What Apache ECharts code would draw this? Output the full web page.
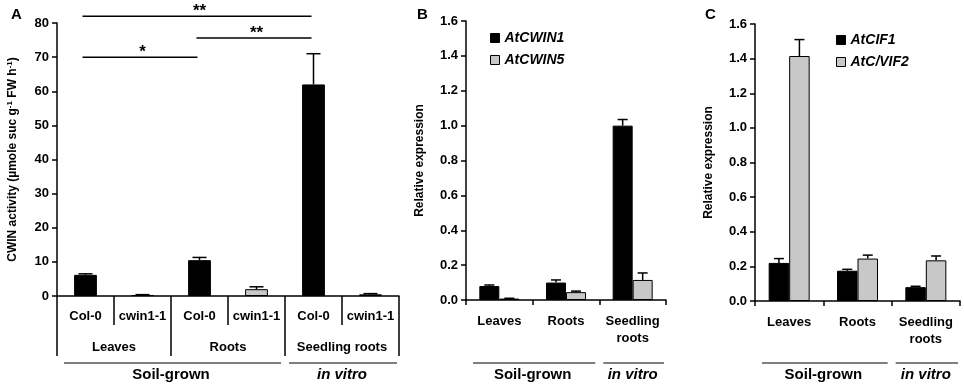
<!DOCTYPE html>
<html>
<head>
<meta charset="utf-8">
<script src="https://cdn.jsdelivr.net/npm/echarts@6/dist/echarts.min.js"></script>
<style>
  html, body { margin: 0; padding: 0; background: #fff; }
  #main { width: 964px; height: 386px; }
</style>
</head>
<body>
<div id="main"></div>
<script>
// panel A: CWIN activity
const genotypes = ['Col-0', 'cwin1-1', 'Col-0', 'cwin1-1', 'Col-0', 'cwin1-1'];
const tissuesA = ['Leaves', 'Roots', 'Seedling roots'];
const activity = [6.2, 0.3, 10.5, 2.0, 62, 0.5];
const activityErr = [0.3, 0.1, 0.8, 0.7, 9, 0.2];
// significance brackets: [from bar, to bar, level, label]
const sigFrom = [0, 2, 0];
const sigTo = [2, 4, 4];
const sigLevel = [70, 75.6, 82];
const sigLabel = ['*', '**', '**'];

// panels B and C: relative expression
const tissues = ['Leaves', 'Roots', 'Seedling\nroots'];
const cwin1 = [0.08, 0.10, 1.00];
const cwin1Err = [0.006, 0.015, 0.035];
const cwin5 = [0.008, 0.045, 0.115];
const cwin5Err = [0.002, 0.006, 0.04];
const cif1 = [0.22, 0.175, 0.08];
const cif1Err = [0.025, 0.008, 0.005];
const cvif2 = [1.415, 0.245, 0.235];
const cvif2Err = [0.095, 0.02, 0.025];
const growth = ['Soil-grown', 'in vitro'];

const FONT = 'Liberation Sans';
const BLACK = '#000';
const GRAY = '#c8c8c8';

const chart = echarts.init(document.getElementById('main'));

const axisLine = { show: true, lineStyle: { color: BLACK, width: 1.5 } };
const labelStyle = { color: BLACK, fontFamily: FONT, fontWeight: 'bold', fontSize: 13 };

function yAxis(grid, max, interval, name, gap, fmt) {
  return {
    gridIndex: grid, type: 'value', min: 0, max: max, interval: interval,
    name: name, nameLocation: 'middle', nameRotate: 90, nameGap: gap,
    nameTextStyle: {
      color: BLACK, fontFamily: FONT, fontWeight: 'bold', fontSize: 12,
      rich: { sup: { fontSize: 8, verticalAlign: 'top', color: BLACK, fontFamily: FONT, fontWeight: 'bold', padding: [0, 0, 6, 0] } }
    },
    axisLine: axisLine,
    axisTick: { show: true, length: 5, lineStyle: { color: BLACK, width: 1.5 } },
    splitLine: { show: false },
    axisLabel: Object.assign({ margin: 8, formatter: fmt }, labelStyle)
  };
}

function errorSeries(name, x, y, data, err, offset, cap) {
  return {
    name: name, type: 'custom', xAxisIndex: x, yAxisIndex: y, z: 5,
    data: data.map((v, i) => [i, v, err[i]]),
    renderItem: function (params, api) {
      const i = api.value(0), v = api.value(1), e = api.value(2);
      const base = api.coord([i, v]);
      const top = api.coord([i, v + e]);
      const band = api.size([1, 0])[0];
      const cx = base[0] + offset * band;
      const style = { stroke: BLACK, lineWidth: 1.5 };
      return {
        type: 'group',
        children: [
          { type: 'line', shape: { x1: cx, y1: base[1], x2: cx, y2: top[1] }, style: style },
          { type: 'line', shape: { x1: cx - cap, y1: top[1], x2: cx + cap, y2: top[1] }, style: style }
        ]
      };
    }
  };
}

function tissueAxis(grid) {
  return {
    gridIndex: grid, type: 'category', data: tissues,
    axisLine: axisLine,
    axisTick: { show: true, length: 5, lineStyle: { color: BLACK, width: 1.5 } },
    axisLabel: Object.assign({}, labelStyle, { interval: 0, margin: 13, lineHeight: 17 })
  };
}

const barStyle = (c) => ({ color: c, borderColor: BLACK, borderWidth: 1 });
const legendText = { color: BLACK, fontFamily: FONT, fontWeight: 'bold', fontStyle: 'italic', fontSize: 14 };
const letter = { fontSize: 15, fontWeight: 'bold', color: BLACK, fontFamily: FONT };

chart.setOption({
  animation: false,
  textStyle: { fontFamily: FONT },
  title: [
    { text: 'A', left: 6, top: 2, textStyle: letter },
    { text: 'B', left: 412, top: 2, textStyle: letter },
    { text: 'C', left: 700, top: 2, textStyle: letter }
  ],
  legend: [
    {
      data: ['AtCWIN1', 'AtCWIN5'], orient: 'vertical', left: 485, top: 26,
      icon: 'rect', itemWidth: 9, itemHeight: 9, itemGap: 8, itemStyle: { borderColor: BLACK, borderWidth: 1 },
      textStyle: legendText
    },
    {
      data: ['AtCIF1', 'AtC/VIF2'], orient: 'vertical', left: 831, top: 28,
      icon: 'rect', itemWidth: 9, itemHeight: 9, itemGap: 8, itemStyle: { borderColor: BLACK, borderWidth: 1 },
      textStyle: legendText
    }
  ],
  grid: [
    { left: 57, right: 565, top: 23, bottom: 90 },
    { left: 466, right: 298, top: 21, bottom: 86 },
    { left: 755, right: 4, top: 24, bottom: 85 }
  ],
  xAxis: [
    {
      gridIndex: 0, type: 'category', data: genotypes,
      axisLine: axisLine,
      axisTick: { show: true, length: 29, lineStyle: { color: BLACK, width: 1.5 } },
      axisLabel: Object.assign({}, labelStyle, { interval: 0, margin: 14 })
    },
    {
      gridIndex: 0, type: 'category', data: tissuesA, position: 'bottom',
      axisLine: { show: false },
      axisTick: { show: true, length: 60, lineStyle: { color: BLACK, width: 1.5 } },
      axisLabel: Object.assign({}, labelStyle, { interval: 0, margin: 45 })
    },
    tissueAxis(1),
    tissueAxis(2)
  ],
  yAxis: [
    yAxis(0, 80, 10, 'CWIN activity (µmole suc g{sup|-1} FW h{sup|-1})', 37),
    yAxis(1, 1.6, 0.2, 'Relative expression', 40, (v) => v.toFixed(1)),
    yAxis(2, 1.6, 0.2, 'Relative expression', 40, (v) => v.toFixed(1))
  ],
  series: [
    {
      name: 'activity', type: 'bar', xAxisIndex: 0, yAxisIndex: 0, barWidth: '40%',
      data: activity.map((v, i) => ({ value: v, itemStyle: barStyle(i % 2 ? GRAY : BLACK) }))
    },
    errorSeries('activityErr', 0, 0, activity, activityErr, 0, 7),
    { name: 'AtCWIN1', type: 'bar', xAxisIndex: 2, yAxisIndex: 1, barWidth: '30%', barGap: '0%', itemStyle: barStyle(BLACK), data: cwin1 },
    { name: 'AtCWIN5', type: 'bar', xAxisIndex: 2, yAxisIndex: 1, barWidth: '30%', barGap: '0%', itemStyle: barStyle(GRAY), data: cwin5 },
    errorSeries('cwin1Err', 2, 1, cwin1, cwin1Err, -0.15, 5),
    errorSeries('cwin5Err', 2, 1, cwin5, cwin5Err, 0.15, 5),
    { name: 'AtCIF1', type: 'bar', xAxisIndex: 3, yAxisIndex: 2, barWidth: '30%', barGap: '0%', itemStyle: barStyle(BLACK), data: cif1 },
    { name: 'AtC/VIF2', type: 'bar', xAxisIndex: 3, yAxisIndex: 2, barWidth: '30%', barGap: '0%', itemStyle: barStyle(GRAY), data: cvif2 },
    errorSeries('cif1Err', 3, 2, cif1, cif1Err, -0.15, 5),
    errorSeries('cvif2Err', 3, 2, cvif2, cvif2Err, 0.15, 5)
  ]
});

// annotations positioned from the axes
const graphics = [];
const lineStyle = { stroke: BLACK, lineWidth: 1.5 };
const txt = (x, y, text, extra) => ({
  type: 'text', x: x, y: y,
  style: Object.assign({ text: text, fill: BLACK, font: 'bold 15px "Liberation Sans"', textAlign: 'center', textVerticalAlign: 'middle' }, extra || {})
});

// significance brackets in panel A
sigFrom.forEach((a, k) => {
  const p1 = chart.convertToPixel({ xAxisIndex: 0, yAxisIndex: 0 }, [a, sigLevel[k]]);
  const p2 = chart.convertToPixel({ xAxisIndex: 0, yAxisIndex: 0 }, [sigTo[k], sigLevel[k]]);
  graphics.push({ type: 'line', shape: { x1: p1[0] - 3, y1: p1[1], x2: p2[0] - 2, y2: p2[1] }, style: lineStyle });
  graphics.push(txt((p1[0] + p2[0]) / 2, p1[1] - 5, sigLabel[k], { font: 'bold 17px "Liberation Sans"' }));
});

// growth condition lines under each panel
function growthLines(xAxisIndex, yAxisIndex, nCats, soilCats, y) {
  const c0 = chart.convertToPixel({ xAxisIndex: xAxisIndex, yAxisIndex: yAxisIndex }, [0, 0]);
  const c1 = chart.convertToPixel({ xAxisIndex: xAxisIndex, yAxisIndex: yAxisIndex }, [1, 0]);
  const band = c1[0] - c0[0];
  const left = c0[0] - band / 2;
  const mid = left + band * soilCats;
  const right = left + band * nCats;
  graphics.push({ type: 'line', shape: { x1: left + 7, y1: y, x2: mid - 4, y2: y }, style: { stroke: BLACK, lineWidth: 1.2 } });
  graphics.push({ type: 'line', shape: { x1: mid + 4, y1: y, x2: right - 2, y2: y }, style: { stroke: BLACK, lineWidth: 1.2 } });
  graphics.push(txt((left + mid) / 2, y + 12, growth[0]));
  graphics.push(txt((mid + right) / 2, y + 12, growth[1], { font: 'italic bold 15px "Liberation Sans"' }));
}
growthLines(0, 0, 6, 4, 363);
growthLines(2, 1, 3, 2, 363);
growthLines(3, 2, 3, 2, 363);

chart.setOption({ graphic: graphics });
</script>
</body>
</html>
